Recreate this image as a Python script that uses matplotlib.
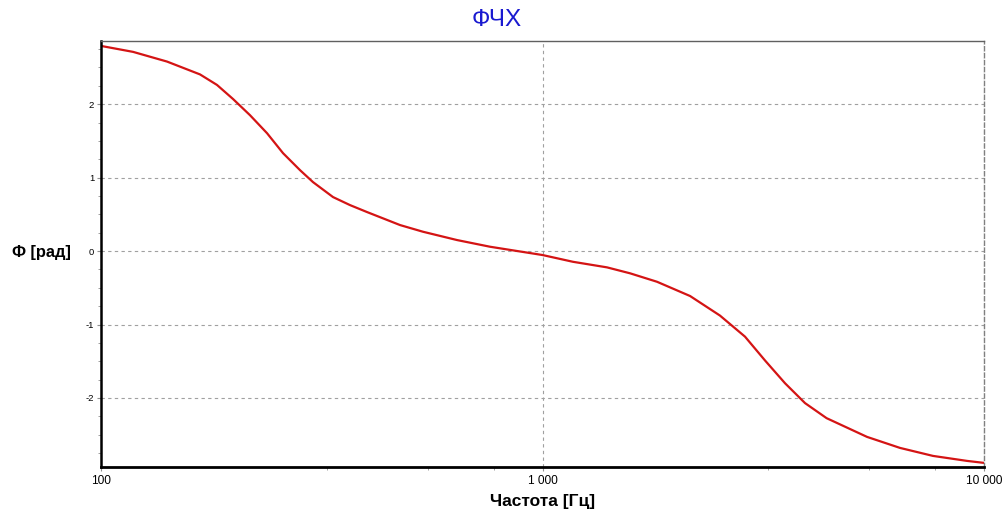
import matplotlib
matplotlib.use("Agg")
import matplotlib.pyplot as plt
from matplotlib.ticker import FixedLocator, FixedFormatter, MultipleLocator

plt.rcParams['font.family'] = ['Liberation Sans', 'DejaVu Sans']

freq = [100, 118.2, 141.1, 167.6, 183.1, 199.1, 217.5, 237.7, 258.4, 282.3,
        302.1, 335.4, 366.4, 400.5, 475.7, 536.2, 640.2, 760.5, 1000, 1172,
        1400, 1579, 1817, 2159, 2523, 2875, 3192, 3543, 3932, 4400,
        5433, 6452, 7664, 9153, 10000]
phase = [2.793, 2.712, 2.580, 2.405, 2.262, 2.070, 1.850, 1.605, 1.333, 1.102,
         0.939, 0.735, 0.626, 0.531, 0.354, 0.263, 0.150, 0.059, -0.054, -0.146,
         -0.222, -0.303, -0.418, -0.612, -0.878, -1.165, -1.490, -1.800, -2.070, -2.275,
         -2.530, -2.680, -2.789, -2.857, -2.884]

xticks = [100, 1000, 10000]
xticklabels = ['100', '1 000', '10 000']
xminor = [325, 550, 775, 3250, 5500, 7750]
yticks = [-2, -1, 0, 1, 2]
yticklabels = ['-2', '-1', '0', '1', '2']

fig = plt.figure(figsize=(10.02, 5.14), dpi=100)
ax = fig.add_axes([101/1002, 1 - 467/514, (984-101)/1002, (467-41)/514])

ax.plot(freq, phase, color='#d41414', lw=1.6, solid_joinstyle='round')

ax.set_xscale('log')
ax.set_xlim(100, 10000)
ax.set_ylim(-2.94, 2.86)

ax.xaxis.set_major_locator(FixedLocator(xticks))
ax.xaxis.set_major_formatter(FixedFormatter(xticklabels))
ax.xaxis.set_minor_locator(FixedLocator(xminor))
ax.xaxis.set_minor_formatter(FixedFormatter([''] * len(xminor)))
ax.yaxis.set_major_locator(FixedLocator(yticks))
ax.yaxis.set_major_formatter(FixedFormatter(yticklabels))
ax.yaxis.set_minor_locator(MultipleLocator(0.25))

ax.tick_params(axis='x', which='major', length=3, color='#909090', labelsize=8.6, pad=3)
ax.tick_params(axis='x', which='minor', length=2.5, color='#909090')
ax.tick_params(axis='y', which='major', length=3, color='#909090', labelsize=6.8, pad=2)
ax.tick_params(axis='y', which='minor', length=2, color='#909090')

ax.grid(True, which='major', color='#a0a0a0', ls=(0, (3, 3)), lw=0.8)

ax.spines['left'].set_linewidth(1.8)
ax.spines['left'].set_color('black')
ax.spines['bottom'].set_linewidth(2.0)
ax.spines['bottom'].set_color('black')
ax.spines['top'].set_color('#606060')
ax.spines['top'].set_linewidth(1.0)
ax.spines['right'].set_color('#808080')
ax.spines['right'].set_linestyle((0, (3, 2)))
ax.spines['right'].set_linewidth(1.0)

ax.set_xlabel('Частота [Гц]', fontsize=12.5, fontweight='bold', labelpad=5)
fig.text(12/1002, 1 - 253/514, 'Ф [рад]', fontsize=11.8, fontweight='bold',
         ha='left', va='center')
fig.text(497/1002, 1 - 20/514, 'ФЧХ', fontsize=17.5, color='#1a1ad0',
         ha='center', va='center')

fig.savefig('out.png', dpi=100)
